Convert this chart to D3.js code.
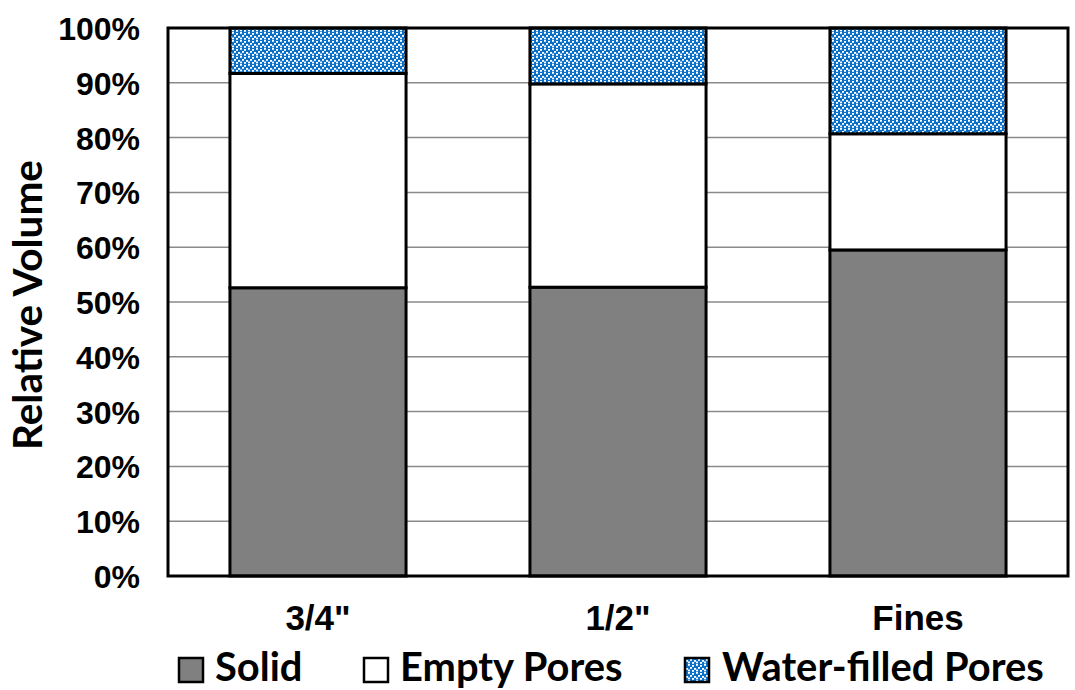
<!DOCTYPE html>
<html>
<head>
<meta charset="utf-8">
<script src="https://cdn.jsdelivr.net/npm/d3@7"></script>
<style>
  html, body { margin: 0; padding: 0; background: #fff; }
  svg { display: block; }
</style>
</head>
<body>
<svg id="chart" width="1075" height="690"></svg>
<script>
// Relative volume of each fraction (percent of total)
const categories = ['3/4"', '1/2"', 'Fines'];
const seriesNames = ["Solid", "Empty Pores", "Water-filled Pores"];
const solid = [52.6, 52.7, 59.5];
const emptyPores = [39.1, 37.1, 21.2];
const waterPores = [8.3, 10.2, 19.3];
const yTicks = [0, 10, 20, 30, 40, 50, 60, 70, 80, 90, 100];

const svg = d3.select("#chart");
const plot = { left: 168, right: 1068, top: 28, bottom: 576 };

// Confetti fill for the water-filled pores
const defs = svg.append("defs");
const pat = defs.append("pattern")
  .attr("id", "confetti")
  .attr("patternUnits", "userSpaceOnUse")
  .attr("width", 8).attr("height", 8);
pat.append("rect").attr("width", 8).attr("height", 8).attr("fill", "#0a70c8");
[[0,0],[4,1],[2,3],[6,4],[0,5.5],[4,6]].forEach(([px, py]) => {
  pat.append("rect").attr("x", px).attr("y", py)
    .attr("width", 2).attr("height", 1.8).attr("fill", "#ffffff");
});

const fills = { "Solid": "#808080", "Empty Pores": "#ffffff", "Water-filled Pores": "url(#confetti)" };

const rows = categories.map((c, i) => ({
  cat: c,
  "Solid": solid[i],
  "Empty Pores": emptyPores[i],
  "Water-filled Pores": waterPores[i]
}));
const stacked = d3.stack().keys(seriesNames)(rows);

const x = d3.scaleBand()
  .domain(categories)
  .range([plot.left, plot.right])
  .paddingInner(0.413)
  .paddingOuter(0.2065);
const y = d3.scaleLinear().domain([0, 100]).range([plot.bottom, plot.top]);

// Gridlines
svg.append("g")
  .selectAll("line")
  .data(yTicks.filter(t => t > 0 && t < 100))
  .join("line")
  .attr("x1", plot.left).attr("x2", plot.right)
  .attr("y1", d => y(d)).attr("y2", d => y(d))
  .attr("stroke", "#8a8a8a").attr("stroke-width", 1.5);

// Stacked bars
svg.append("g")
  .selectAll("g")
  .data(stacked)
  .join("g")
  .attr("fill", d => fills[d.key])
  .selectAll("rect")
  .data(d => d)
  .join("rect")
  .attr("x", d => x(d.data.cat))
  .attr("width", x.bandwidth())
  .attr("y", d => y(d[1]))
  .attr("height", d => y(d[0]) - y(d[1]))
  .attr("stroke", "#000")
  .attr("stroke-width", 3);

// Plot frame
svg.append("rect")
  .attr("x", plot.left).attr("y", plot.top)
  .attr("width", plot.right - plot.left)
  .attr("height", plot.bottom - plot.top)
  .attr("fill", "none").attr("stroke", "#000").attr("stroke-width", 3);

// Y axis tick labels
const yAxis = d3.axisLeft(y).tickValues(yTicks).tickFormat(d => d + "%").tickSize(0).tickPadding(0);
const yg = svg.append("g").attr("transform", `translate(${plot.left - 28},0)`).call(yAxis);
yg.select(".domain").remove();
yg.selectAll("text")
  .attr("font-family", "'Liberation Sans', Arial, sans-serif")
  .attr("font-weight", "bold")
  .attr("font-size", 32)
  .attr("fill", "#000")
  .attr("dy", "0.36em");

// X axis category labels
const xAxis = d3.axisBottom(x).tickSize(0).tickPadding(0);
const xg = svg.append("g").attr("transform", `translate(0,${plot.bottom})`).call(xAxis);
xg.select(".domain").remove();
xg.selectAll("text")
  .attr("font-family", "'Liberation Sans', Arial, sans-serif")
  .attr("font-weight", "bold")
  .attr("font-size", 35)
  .attr("fill", "#000")
  .attr("y", 54)
  .attr("dy", 0);

const titleFont = "Lato, 'Open Sans', sans-serif";

// Font size that makes a text element span the requested width
function sizeForWidth(sel, width) {
  const base = parseFloat(sel.attr("font-size"));
  return base * width / sel.node().getComputedTextLength();
}

// Y axis title
const yTitle = svg.append("text")
  .attr("transform", "translate(42,305) rotate(-90)")
  .attr("text-anchor", "middle")
  .attr("font-family", titleFont)
  .attr("font-weight", "bold")
  .attr("font-size", 40)
  .attr("fill", "#000")
  .text("Relative Volume");
yTitle.attr("font-size", sizeForWidth(yTitle, 290));

// Legend
const legendItems = [
  { name: "Solid", mx: 179, tx: 215 },
  { name: "Empty Pores", mx: 364, tx: 400 },
  { name: "Water-filled Pores", mx: 685, tx: 722 }
];
const lg = svg.append("g");
const legendTexts = legendItems.map(it => {
  lg.append("rect")
    .attr("x", it.mx).attr("y", 658)
    .attr("width", 24).attr("height", 24)
    .attr("fill", fills[it.name])
    .attr("stroke", "#000").attr("stroke-width", 2.5);
  return lg.append("text")
    .attr("x", it.tx).attr("y", 681)
    .attr("font-family", titleFont)
    .attr("font-weight", "bold")
    .attr("font-size", 40)
    .attr("fill", "#000")
    .text(it.name);
});
const legendSize = sizeForWidth(legendTexts[2], 322);
legendTexts.forEach(t => t.attr("font-size", legendSize));
</script>
</body>
</html>
